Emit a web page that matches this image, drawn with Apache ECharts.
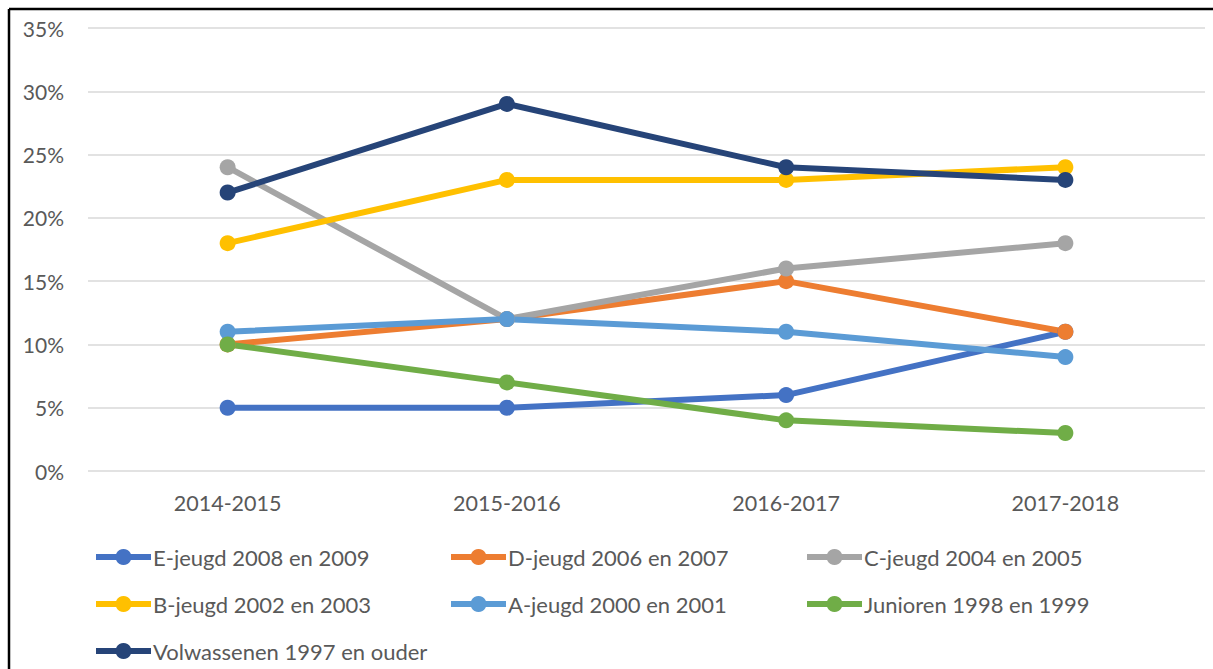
<!DOCTYPE html>
<html>
<head>
<meta charset="utf-8">
<script src="https://cdn.jsdelivr.net/npm/echarts@6/dist/echarts.min.js"></script>
<style>
  html, body { margin: 0; padding: 0; background: #fff; }
  #chart { width: 1213px; height: 669px; }
</style>
</head>
<body>
<div id="chart"></div>
<script>
// seasons on the x axis
const seasons = ['2014-2015', '2015-2016', '2016-2017', '2017-2018'];

// share per age group, in percent
const eJeugd = [5, 5, 6, 11];
const dJeugd = [10, 12, 15, 11];
const cJeugd = [24, 12, 16, 18];
const bJeugd = [18, 23, 23, 24];
const aJeugd = [11, 12, 11, 9];
const junioren = [10, 7, 4, 3];
const volwassenen = [22, 29, 24, 23];

const names = [
  'E-jeugd 2008 en 2009',
  'D-jeugd 2006 en 2007',
  'C-jeugd 2004 en 2005',
  'B-jeugd 2002 en 2003',
  'A-jeugd 2000 en 2001',
  'Junioren 1998 en 1999',
  'Volwassenen 1997 en ouder',
];
const values = [eJeugd, dJeugd, cJeugd, bJeugd, aJeugd, junioren, volwassenen];
const colors = ['#4472C4', '#ED7D31', '#A5A5A5', '#FFC000', '#5B9BD5', '#70AD47', '#264478'];

const font = 'Lato, "Liberation Sans", sans-serif';
const textColor = '#595959';

const chart = echarts.init(document.getElementById('chart'), null, { renderer: 'svg' });

const series = names.map((name, i) => ({
  name: name,
  type: 'line',
  data: values[i],
  symbol: 'circle',
  symbolSize: 16,
  lineStyle: { width: 6, color: colors[i] },
  itemStyle: { color: colors[i] },
  emphasis: { disabled: true },
  animation: false,
}));

// legend in three columns, like the original
const legendBase = {
  orient: 'vertical',
  padding: 0,
  height: 130,
  itemWidth: 55,
  itemHeight: 20,
  itemGap: 25,
  selectedMode: false,
  lineStyle: { width: 6 },
  textStyle: { fontFamily: font, fontSize: 22, color: textColor, padding: [0, 0, 0, -3] },
  top: 546,
};

const option = {
  backgroundColor: '#fff',
  grid: { left: 88, right: 8, top: 28, bottom: 198, containLabel: false },
  xAxis: {
    type: 'category',
    data: seasons,
    axisLine: { show: false },
    axisTick: { show: false },
    axisLabel: { fontFamily: font, fontSize: 21.5, color: textColor, margin: 21 },
  },
  yAxis: {
    type: 'value',
    min: 0,
    max: 35,
    interval: 5,
    axisLine: { show: false },
    axisTick: { show: false },
    axisLabel: {
      fontFamily: font, fontSize: 21, color: textColor, margin: 24,
      formatter: (v) => v + '%',
    },
    splitLine: { lineStyle: { color: '#D9D9D9', width: 1.5 } },
  },
  legend: [
    Object.assign({}, legendBase, { left: 93, data: [names[0], names[3], names[6]] }),
    Object.assign({}, legendBase, { left: 448, data: [names[1], names[4]] }),
    Object.assign({}, legendBase, { left: 804, data: [names[2], names[5]] }),
  ],
  graphic: [
    { type: 'line', shape: { x1: 9, y1: 9, x2: 1213, y2: 9 }, style: { stroke: '#000', lineWidth: 2.5 } },
    { type: 'line', shape: { x1: 9, y1: 9, x2: 9, y2: 669 }, style: { stroke: '#000', lineWidth: 2.5 } },
  ],
  series: series,
};

chart.setOption(option);
</script>
</body>
</html>
